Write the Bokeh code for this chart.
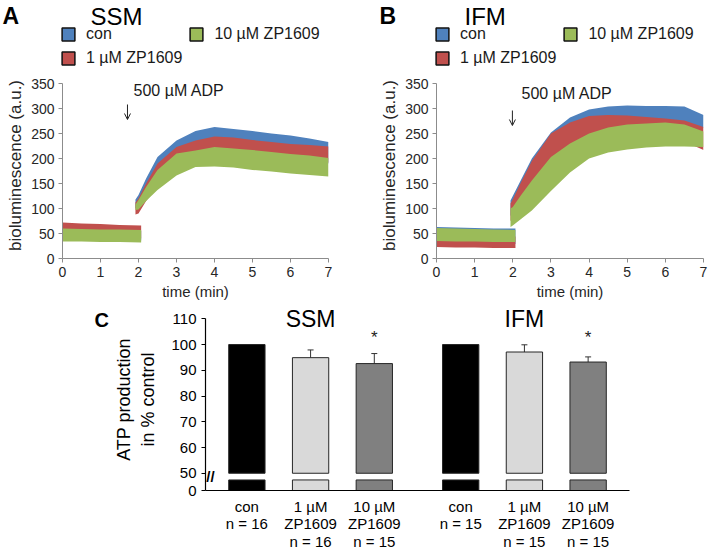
from bokeh.plotting import figure
from bokeh.layouts import column, row
from bokeh.models import (Legend, LegendItem, Label, LabelSet, Arrow, OpenHead,
                          FactorRange, FixedTicker, Whisker, TeeHead, Range1d,
                          ColumnDataSource)
from bokeh.core.properties import value
from bokeh.embed import file_html
from bokeh.resources import INLINE

FONT = "Liberation Sans"

# ---------------- data: bioluminescence traces (band = lower/upper envelope) -------------
series_labels = ["con", "1 µM ZP1609", "10 µM ZP1609"]
series_colors = ["#4f81bd", "#c0504d", "#9bbb59"]

time_pre = [0.0, 0.5, 1.0, 1.5, 2.07]
time_post_ssm = [1.92, 2.0, 2.2, 2.5, 3.0, 3.5, 4.0, 4.5, 5.0, 5.5, 6.0, 6.5, 7.0]
time_post_ifm = [1.94, 2.0, 2.2, 2.5, 3.0, 3.5, 4.0, 4.5, 5.0, 5.5, 6.0, 6.5, 7.0]

# SSM
ssm_con_pre_lo = [38, 37, 37, 36, 36]
ssm_con_pre_hi = [58, 57, 56, 56, 55]
ssm_1_pre_lo = [42, 41, 41, 40, 40]
ssm_1_pre_hi = [72, 70, 69, 67, 66]
ssm_10_pre_lo = [34, 34, 33, 33, 32]
ssm_10_pre_hi = [60, 59, 58, 58, 57]

ssm_con_post_lo = [100, 105, 130, 160, 190, 205, 210, 208, 205, 200, 198, 195, 190]
ssm_con_post_hi = [118, 127, 160, 203, 236, 255, 263, 259, 255, 250, 246, 240, 233]
ssm_1_post_lo = [88, 90, 115, 145, 172, 185, 190, 190, 188, 187, 185, 185, 192]
ssm_1_post_hi = [112, 120, 150, 190, 223, 236, 244, 242, 237, 233, 229, 227, 224]
ssm_10_post_lo = [97, 98, 115, 137, 166, 183, 184, 182, 177, 174, 170, 167, 164]
ssm_10_post_hi = [108, 117, 143, 177, 210, 216, 223, 220, 217, 213, 209, 206, 201]

# IFM
ifm_con_pre_lo = [30, 30, 29, 29, 29]
ifm_con_pre_hi = [63, 62, 61, 60, 60]
ifm_1_pre_lo = [23, 22, 22, 21, 21]
ifm_1_pre_hi = [45, 45, 44, 44, 44]
ifm_10_pre_lo = [35, 34, 34, 33, 33]
ifm_10_pre_hi = [61, 60, 59, 58, 57]

ifm_con_post_lo = [85, 92, 118, 160, 205, 235, 250, 258, 262, 262, 262, 262, 262]
ifm_con_post_hi = [116, 125, 155, 200, 252, 282, 298, 304, 306, 305, 305, 304, 287]
ifm_1_post_lo = [75, 80, 105, 140, 180, 210, 225, 232, 236, 236, 236, 234, 217]
ifm_1_post_hi = [110, 118, 150, 195, 250, 272, 285, 287, 286, 283, 280, 276, 263]
ifm_10_post_lo = [63, 66, 78, 96, 135, 172, 200, 212, 218, 222, 224, 224, 223]
ifm_10_post_hi = [100, 103, 125, 156, 203, 230, 250, 262, 268, 270, 272, 268, 254]

x_ticks = [0, 1, 2, 3, 4, 5, 6, 7]
y_ticks = [0, 50, 100, 150, 200, 250, 300, 350]

# ---------------- data: ATP production (panel C) ----------------
groups = ["SSM", "IFM"]
bar_labels = [
    ["con\nn = 16", "1 µM\nZP1609\nn = 16", "10 µM\nZP1609\nn = 15"],
    ["con\nn = 15", "1 µM\nZP1609\nn = 15", "10 µM\nZP1609\nn = 15"],
]
atp_mean = [100.0, 94.9, 92.6, 100.0, 97.1, 93.2]
atp_err = [0.0, 3.0, 3.9, 0.0, 2.8, 2.0]
significant = [False, False, True, False, False, True]
bar_colors = ["#000000", "#d9d9d9", "#808080"] * 2
c_ticks = [50, 60, 70, 80, 90, 100, 110]

AXIS_ZERO = 43.3    # where the broken axis shows "0"
BREAK_LOW = 47.4    # top of the stub below the break
BREAK_HIGH = 50.0   # axis resumes here

HDR_H = 72
ROW1_H = 304


def blank_fig(width, height):
    p = figure(width=width, height=height, x_range=Range1d(0, width),
               y_range=Range1d(height, 0), output_backend="svg",
               toolbar_location=None, x_axis_location=None, y_axis_location=None,
               min_border=0, min_border_left=0, min_border_right=0,
               min_border_top=0, min_border_bottom=0)
    p.frame_align = False
    p.outline_line_color = None
    p.grid.visible = False
    return p


def header(width, letter, letter_x, name, name_x, legend_x):
    h = blank_fig(width, HDR_H)
    h.add_layout(Label(x=letter_x, y=15, text=letter, text_font=FONT,
                       text_baseline="alphabetic",
                       text_font_size="23px", text_font_style="bold",
                       text_color="#000000"))
    h.add_layout(Label(x=name_x, y=16, text=name, text_font=FONT,
                       text_baseline="alphabetic",
                       text_font_size="24px", text_color="#000000"))
    items = []
    for lab, col in zip(series_labels, series_colors):
        # legend swatch only: zero-size, hidden renderer
        r = h.quad(left=[0], right=[0], top=[0], bottom=[0], fill_color=col,
                   line_color="#111111", line_width=1.5)
        r.visible = False
        items.append(LegendItem(label=lab, renderers=[r]))
    leg = Legend(items=items, location=(legend_x, 5), ncols=2,
                 label_text_font=FONT, label_text_font_size="16px",
                 label_text_color="#1a1a1a",
                 glyph_width=16, glyph_height=16, label_standoff=10,
                 label_height=18, spacing=6, padding=0, margin=0,
                 border_line_color=None, background_fill_alpha=0)
    h.add_layout(leg)
    return h


def trace_panel(t_post, bands, width, border_left, border_right, ann, arrow):
    top = (258 - HDR_H) * 2  # data value at top of frame (0.5 px per unit)
    p = figure(width=width, height=ROW1_H - HDR_H, x_range=Range1d(0, 7),
               y_range=Range1d(0, top), output_backend="svg", toolbar_location=None,
               min_border_left=border_left, min_border_right=border_right,
               min_border_top=0, min_border_bottom=ROW1_H - 258)
    p.frame_align = False
    p.outline_line_color = None
    p.grid.visible = False
    for (pre_lo, pre_hi, post_lo, post_hi), col in zip(bands, series_colors):
        p.varea(x=time_pre, y1=pre_lo, y2=pre_hi, fill_color=col)
        p.varea(x=t_post, y1=post_lo, y2=post_hi, fill_color=col)

    p.xaxis.ticker = FixedTicker(ticks=x_ticks)
    p.yaxis.ticker = FixedTicker(ticks=y_ticks)
    p.yaxis.bounds = (y_ticks[0], y_ticks[-1])
    for ax in (p.xaxis[0], p.yaxis[0]):
        ax.axis_line_color = "#8c8c8c"
        ax.major_tick_line_color = "#8c8c8c"
        ax.major_tick_out = 4
        ax.major_tick_in = 0
        ax.minor_tick_line_color = None
        ax.major_label_text_font = FONT
        ax.major_label_text_font_size = "14px"
        ax.major_label_text_color = "#262626"
        ax.major_label_standoff = 4
        ax.axis_label_text_font = FONT
        ax.axis_label_text_font_style = "normal"
        ax.axis_label_text_color = "#262626"
        ax.axis_label_standoff = 3
    p.xaxis.axis_label = "time (min)"
    p.xaxis.axis_label_text_font_size = "15px"
    p.yaxis.axis_label = "bioluminescence (a.u.)"
    p.yaxis.axis_label_text_font_size = "17px"

    p.add_layout(Label(x=ann[0], y=ann[1], text="500 µM ADP", text_font=FONT,
                       text_baseline="alphabetic",
                       text_font_size="16px", text_color="#1a1a1a"))
    p.add_layout(Arrow(x_start=arrow[0], y_start=arrow[1], x_end=arrow[0],
                       y_end=arrow[2], line_color="#222222", line_width=1,
                       end=OpenHead(size=6, line_color="#222222", line_width=1)))
    return p


bands_ssm = [
    (ssm_con_pre_lo, ssm_con_pre_hi, ssm_con_post_lo, ssm_con_post_hi),
    (ssm_1_pre_lo, ssm_1_pre_hi, ssm_1_post_lo, ssm_1_post_hi),
    (ssm_10_pre_lo, ssm_10_pre_hi, ssm_10_post_lo, ssm_10_post_hi),
]
bands_ifm = [
    (ifm_con_pre_lo, ifm_con_pre_hi, ifm_con_post_lo, ifm_con_post_hi),
    (ifm_1_pre_lo, ifm_1_pre_hi, ifm_1_post_lo, ifm_1_post_hi),
    (ifm_10_pre_lo, ifm_10_pre_hi, ifm_10_post_lo, ifm_10_post_hi),
]

W_A = 354
W_B = 709 - W_A
hA = header(W_A, "A", 2, "SSM", 90, 60)
pA = trace_panel(time_post_ssm, bands_ssm, W_A, 62, W_A - 328,
                 (1.87, 336), (1.71, 308, 278))
hB = header(W_B, "B", 379 - W_A, "IFM", 464 - W_A, 434 - W_A)
pB = trace_panel(time_post_ifm, bands_ifm, W_B, 436 - W_A, 709 - 703,
                 (2.23, 330), (1.99, 296, 266))

# ---------------- panel C ----------------
C_H = 553 - ROW1_H
SPACER_W = 110
factors = [(g, lab) for g, labs in zip(groups, bar_labels) for lab in labs]

sC = blank_fig(SPACER_W, C_H)
sC.add_layout(Label(x=94, y=15, text="C", text_font=FONT,
                    text_baseline="alphabetic",
                    text_font_size="20px", text_font_style="bold",
                    text_color="#000000"))

pC = figure(width=709 - SPACER_W, height=C_H,
            x_range=FactorRange(factors=factors, group_padding=0.356,
                                range_padding=0.047, factor_padding=0.0),
            y_range=Range1d(AXIS_ZERO, 114.0),
            output_backend="svg", toolbar_location=None,
            min_border_left=205 - SPACER_W, min_border_right=709 - 629,
            min_border_top=4, min_border_bottom=553 - 497)
pC.frame_align = False
pC.outline_line_color = None
pC.grid.visible = False

src = ColumnDataSource(dict(x=factors, top=atp_mean, color=bar_colors))
pC.vbar(x="x", top="top", bottom=BREAK_HIGH, width=0.57, fill_color="color",
        line_color="#262626", line_width=1, source=src)
pC.vbar(x="x", top=BREAK_LOW, bottom=0, width=0.57, fill_color="color",
        line_color="#262626", line_width=1, source=src)

err_idx = [i for i, e in enumerate(atp_err) if e > 0]
esrc = ColumnDataSource(dict(x=[factors[i] for i in err_idx],
                             lower=[atp_mean[i] for i in err_idx],
                             upper=[atp_mean[i] + atp_err[i] for i in err_idx]))
pC.add_layout(Whisker(source=esrc, base="x", lower="lower", upper="upper",
                      dimension="height", line_color="#333333", line_width=1,
                      upper_head=TeeHead(size=6, line_color="#333333", line_width=1),
                      lower_head=None))

sig = [factors[i] for i, s in enumerate(significant) if s]
pC.add_layout(LabelSet(source=ColumnDataSource(dict(x=sig, y=[100.5] * len(sig),
                                                     t=["*"] * len(sig))),
                       x="x", y="y", text="t", text_align="center",
                       text_baseline="alphabetic",
                       text_font=value(FONT), text_font_size=value("17px"),
                       text_color="#222222"))

gsrc = ColumnDataSource(dict(x=[(g, labs[1]) for g, labs in zip(groups, bar_labels)],
                             y=[106.8] * 2, t=groups))
pC.add_layout(LabelSet(source=gsrc, x="x", y="y", text="t", text_align="center",
                       text_baseline="alphabetic",
                       text_font=value(FONT), text_font_size=value("23px"),
                       text_color="#000000"))

pC.yaxis.ticker = FixedTicker(ticks=[AXIS_ZERO] + c_ticks)
pC.yaxis.bounds = (AXIS_ZERO, c_ticks[-1])
pC.yaxis.major_label_overrides = {AXIS_ZERO: "0"}
for ax in (pC.xaxis[0], pC.yaxis[0]):
    ax.axis_line_color = "#000000"
    ax.axis_line_width = 1.2
    ax.major_tick_line_color = "#000000"
    ax.major_tick_out = 4
    ax.major_tick_in = 0
    ax.minor_tick_line_color = None
    ax.major_label_text_font = FONT
    ax.major_label_text_font_size = "15px"
    ax.major_label_text_color = "#000000"
pC.yaxis.major_label_standoff = 5
pC.yaxis.axis_label = "ATP production\nin % control"
pC.yaxis.axis_label_text_font = FONT
pC.yaxis.axis_label_text_font_size = "18px"
pC.yaxis.axis_label_text_font_style = "normal"
pC.yaxis.axis_label_text_color = "#000000"
pC.yaxis.axis_label_standoff = 10
pC.xaxis.major_tick_line_color = None
pC.xaxis.major_label_standoff = 3
pC.xaxis.major_label_text_line_height = 1.05
pC.xaxis.group_text_font_size = "0px"
pC.xaxis.group_text_color = None
pC.xaxis.separator_line_color = None

pC.add_layout(Label(x=5, y=(BREAK_LOW + BREAK_HIGH) / 2, x_units="screen",
                    text="//", text_align="center", text_baseline="middle",
                    text_font=FONT, text_font_size="15px", text_font_style="bold",
                    text_color="#000000"))

layout = column(row(column(hA, pA), column(hB, pB)), row(sC, pC))
open("out.html", "w").write(file_html(layout, INLINE))
